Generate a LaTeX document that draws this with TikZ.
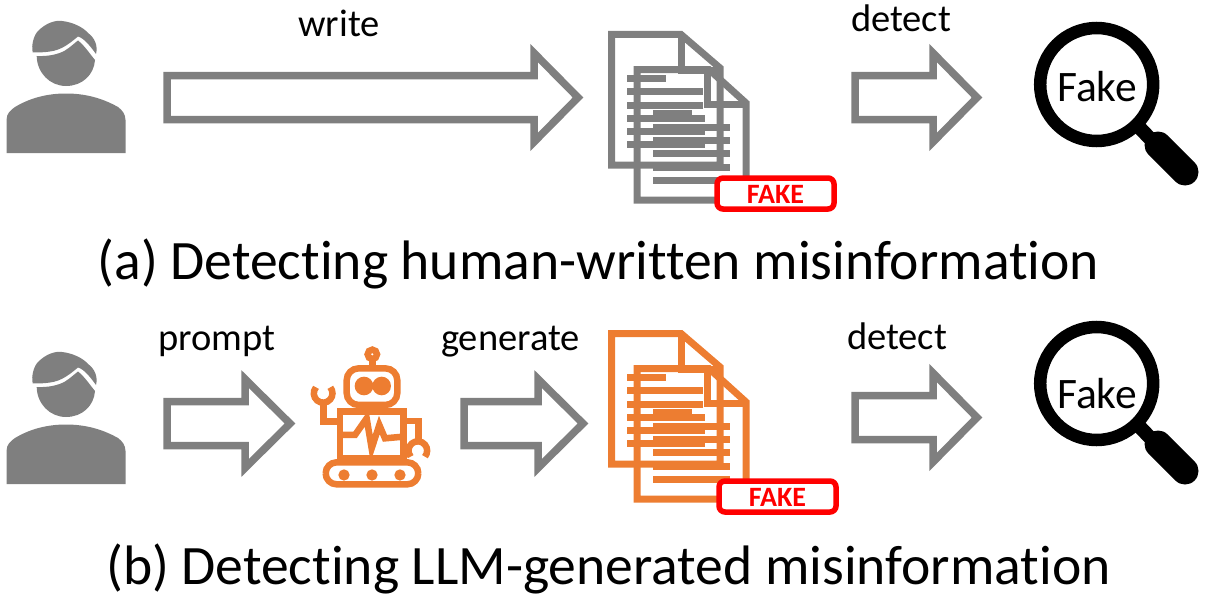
\documentclass[tikz,border=0pt]{standalone}
\usepackage{fontspec}
\setmainfont{Carlito}[Ligatures=NoCommon]
\usepackage{xcolor}
\usepackage{tikz}
\usetikzlibrary{positioning,calc}
\definecolor{icongray}{RGB}{127,127,127}
\definecolor{iconorange}{RGB}{237,125,49}
\definecolor{tagred}{RGB}{255,0,0}
\tikzset{
 verb/.style={anchor=base,inner sep=0pt,font=\fontsize{38.5}{40}\selectfont},
 caption/.style={anchor=base,inner sep=0pt,font=\fontsize{55.6}{58}\selectfont},
 lenstext/.style={anchor=base,inner sep=0pt,font=\fontsize{43.5}{45}\selectfont},
 badgetext/.style={inner sep=0pt,text=tagred,font=\fontsize{28}{30}\selectfont\bfseries},
 blockarrow/.style={draw=icongray,line width=7.5pt,miter limit=10},
 pics/person/.style={code={
  \fill[icongray] (32.7,52.3) .. controls (31,45) and (34,35) .. (38,31) .. controls (46,23) and (55,20) .. (62,21) .. controls (72,22) and (83,27) .. (88,33) .. controls (95,38) and (98,46) .. (96,54) .. controls (91,47) and (84,38) .. (78,36.5) .. controls (70,43) and (62,50) .. (50,51.5) .. controls (44,52.5) and (38,52.5) .. (32.7,52.3) -- cycle;
  \fill[icongray] (36.7,56) .. controls (48,56.5) and (58,54.5) .. (65,50.5) .. controls (70,47.5) and (74,43.5) .. (78,40.5) .. controls (84,45) and (90,54) .. (95,60) .. controls (94,75) and (82,86) .. (66,86) .. controls (50,86) and (37,73) .. (36.7,56) -- cycle;
  \fill[icongray] (6.5,153) -- (6.5,120) .. controls (6.5,113) and (11,110) .. (15,107) .. controls (30,98) and (47,93.5) .. (66,93.5) .. controls (85,93.5) and (102,98) .. (118,107) .. controls (122,110) and (125.5,114) .. (125.5,120) -- (125.5,153) -- cycle;
 }},
 pics/docpair/.style={code={
  \begin{scope}[draw=#1,line width=7pt,line join=miter]
   % back sheet, then front sheet, both see-through
   \draw (681,34.5) -- (611.5,34.5) -- (611.5,165) -- (720,165) -- (720,68) -- cycle;
   \draw (681,34.5) -- (681,70) -- (720,70);
   \draw (709,69.5) -- (637,69.5) -- (637,200) -- (746,200) -- (746,103) -- cycle;
   \draw (707,69.5) -- (707,104) -- (746,104);
  \end{scope}
  \foreach \y/\x in {78/666,91/703,105/703,118/705,131/705,144/705}{
   \fill[#1] (627,\y-3.5) rectangle (\x,\y+3.5);
  }
  \fill[#1] (653,109.5) rectangle (692,116.5);
  \foreach \y in {127,140,153,167,180}{
   \fill[#1] (653,\y-3.5) rectangle (730,\y+3.5);
  }
 }},
 pics/fakeglass/.style={code={
  \draw[black,line width=12.5pt] (1096.7,84.5) circle[radius=56.5];
  \draw[black,line width=14pt] (1138,126) -- (1158,147);
  \draw[black,line width=27pt,line cap=round] (1158,145) -- (1185,172);
 }},
 pics/fakebadge/.style={code={
  \draw[tagred,line width=5.5pt,fill=white,rounded corners=6pt] (717,178) rectangle (834,209);
 }},
}
\newcommand{\hollowarrow}[4]{% left, neck, tip, middle
 \draw[blockarrow] (#1,#4-22) -- (#2,#4-22) -- (#2,#4-44.5) -- (#3,#4) -- (#2,#4+44.5) -- (#2,#4+22) -- (#1,#4+22) -- cycle;
}
\begin{document}
\begin{tikzpicture}[x=1pt,y=-1pt]
\useasboundingbox (0,0) rectangle (1209,602);
% upper row
\pic at (0,0) {person};
\hollowarrow{167}{534}{578}{97.5}
\node[verb] (write) at (339,37) {write};
\pic at (0,0) {docpair=icongray};
\pic at (0,0) {fakebadge};
\node[badgetext] (fakea) at (775.5,194) {FAKE};
\hollowarrow{855}{933}{977}{97.5}
\node[verb] (detecta) at (901,32) {detect};
\pic at (0,0) {fakeglass};
\node[lenstext] (lensa) at (1097,101) {Fake};
\node[caption] (capa) at (598.5,279) {(a) Detecting human-written misinformation};
% lower row
\pic at (0,331) {person};
\hollowarrow{167}{245}{290}{423.5}
\node[verb] (prompt) at (217,350) {prompt};
\begin{scope}[shift={(290,340)},x=0.3333pt,y=-0.3333pt,iconorange,line width=6.5pt]
 \draw (247,43) circle[radius=14];
 \draw (247,62) -- (247,88);
 \draw[rounded corners=12pt] (170,85) rectangle (322,195);
 \fill (222,138) circle[radius=28];
 \fill (275,138) circle[radius=28];
 \draw[line width=5pt] (227,195) -- (227,215);
 \draw[line width=5pt] (268,195) -- (268,215);
 \draw (150,215) rectangle (340,355);
 \draw[line join=miter] (150,285) -- (195,285) -- (230,235) -- (245,325) -- (268,255) -- (285,295) -- (340,290);
 \draw (150,245) -- (100,245) -- (100,185);
 \draw (78,142) arc[start angle=220,end angle=-40,radius=28];
 \draw (340,243) -- (385,243) -- (385,305);
 \draw (362,350) arc[start angle=140,end angle=400,radius=28];
 \draw[rounded corners=11pt] (107,367) rectangle (385,433);
 \foreach \wx in {162,246,330}{\fill (\wx,405) circle[radius=17];}
\end{scope}
\hollowarrow{464}{538}{583}{423.5}
\node[verb] (generate) at (510.5,350) {generate};
\pic at (0,299) {docpair=iconorange};
\pic at (2,303) {fakebadge};
\node[badgetext] (fakeb) at (777.5,497) {FAKE};
\hollowarrow{855}{933}{977}{417.5}
\node[verb] (detectb) at (897,349) {detect};
\pic at (0,299) {fakeglass};
\node[lenstext] (lensb) at (1097,408) {Fake};
\node[caption] (capb) at (608.5,584) {(b) Detecting LLM-generated misinformation};
\end{tikzpicture}
\end{document}
